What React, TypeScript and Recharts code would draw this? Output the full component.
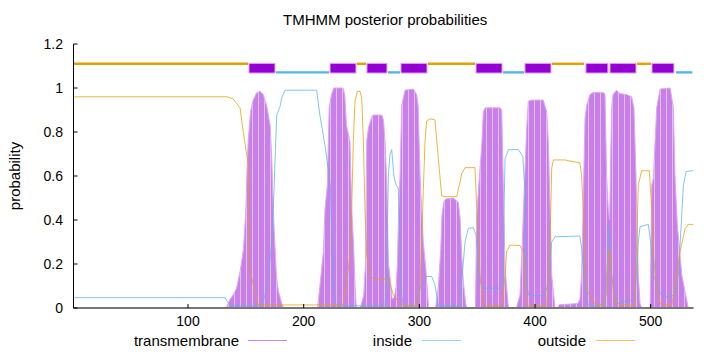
import React from "react";
import { ComposedChart, Area, Line, XAxis, YAxis, ReferenceArea } from "recharts";

// residue range and ticks
const seqStart = 1;
const seqEnd = 537;
const xTicks = [100, 200, 300, 400, 500];
const yTicks = [0, 0.2, 0.4, 0.6, 0.8, 1, 1.2];

// posterior probabilities, [residue, probability]
const transmembrane: [number, number][] = [
  [1, 0], [133, 0], [136, 0.036], [139, 0.06], [142, 0.09], [145, 0.165], [148, 0.27], [150, 0.45],
  [151, 0.62], [152, 0.76], [154, 0.89], [156, 0.94], [159, 0.976], [162, 0.986], [165, 0.97],
  [168, 0.92], [171, 0.83], [172.4, 0.68], [173.7, 0.45], [175, 0.3], [176.5, 0.14], [178, 0.08],
  [181, 0.02], [183, 0],
  [212, 0], [214, 0.1], [217, 0.256], [218.5, 0.455], [220.5, 0.56], [222, 0.91], [224, 0.97],
  [226, 1.0], [234, 1.0], [235.5, 0.97], [237, 0.83], [240, 0.756], [241.5, 0.455], [243, 0.3],
  [244.5, 0.09], [245.5, 0],
  [249, 0], [252, 0.06], [253.5, 0.21], [254.5, 0.76], [256, 0.82], [259, 0.87], [260, 0.877],
  [267.5, 0.877], [269, 0.855], [270.3, 0.756], [271.8, 0.574], [273.2, 0.21], [275, 0.12],
  [276.5, 0.04], [278.5, 0.05], [280, 0.1],
  [281, 0.2], [282, 0.42], [283.3, 0.6], [284.7, 0.92], [287.6, 0.99], [294.8, 0.995], [297.7, 0.97],
  [299, 0.915], [300.6, 0.6], [303.4, 0.3], [305.8, 0.165], [308, 0],
  [314, 0], [316.5, 0.1], [318.5, 0.27], [319.5, 0.42], [321, 0.48], [322.5, 0.495], [329.4, 0.5],
  [333.7, 0.48], [335.2, 0.41], [336.6, 0.24], [338, 0.12], [340, 0.02], [341, 0],
  [348.5, 0], [349.6, 0.42], [352.4, 0.635], [353.8, 0.726], [355.3, 0.89], [356.8, 0.91],
  [369.7, 0.91], [371.2, 0.9], [372.6, 0.55], [374.1, 0.18], [377, 0],
  [384, 0], [387, 0.06], [389, 0.3], [391.3, 0.62], [392.8, 0.82], [394.2, 0.94], [397.1, 0.945],
  [407.2, 0.945], [410.1, 0.89], [411.5, 0.756], [413, 0.455], [414.4, 0.15], [417.3, 0],
  [419, 0], [421, 0.015], [437, 0.02], [438.8, 0.04],
  [440.3, 0.15], [443.2, 0.86], [444.6, 0.92], [447.5, 0.97], [450.4, 0.98], [459, 0.98],
  [460.5, 0.97], [461.9, 0.6], [463.3, 0.455], [464.5, 0.4],
  [466.2, 0.91], [467.5, 0.97], [470.5, 0.99], [473.3, 0.975], [479.2, 0.97], [483.5, 0.96],
  [485.5, 0.91], [487.3, 0.6], [489.3, 0.15], [490.8, 0.02], [492.2, 0],
  [499.5, 0], [500.9, 0.56], [502.3, 0.59], [505.2, 0.91], [508.1, 0.995], [516.8, 1.0],
  [519.6, 0.91], [521, 0.6], [523, 0.38], [526.9, 0.15], [530.6, 0.05], [532.5, 0], [537, 0],
];

const inside: [number, number][] = [
  [1, 0.047], [132, 0.047], [134, 0.03], [136, 0.01], [163.7, 0.01], [166.6, 0.06], [169.5, 0.15],
  [172.4, 0.3], [174.3, 0.53], [175.8, 0.756], [176.7, 0.877], [179.5, 0.915], [181, 0.955],
  [183.8, 0.99], [211.2, 0.99], [214, 0.877], [218.4, 0.74], [223, 0.56], [224.5, 0.3], [226, 0.074],
  [228, 0.01], [270.3, 0.01], [271.8, 0.15], [273.2, 0.6], [274.6, 0.7], [276.1, 0.72], [278, 0.6],
  [279.8, 0.56], [281.8, 0.545], [283.3, 0.3], [284.7, 0.06], [286, 0.01], [297.7, 0.01],
  [300.6, 0.09], [306.3, 0.143], [310.7, 0.143], [313.5, 0.105], [316.4, 0.01], [335, 0.01],
  [336.6, 0.12], [339.5, 0.3], [342.3, 0.362], [346.7, 0.365], [349, 0.33], [351, 0.21],
  [352.4, 0.12], [355.3, 0.09], [369.7, 0.09], [372.6, 0.15], [373.2, 0.45], [374.1, 0.68],
  [377, 0.72], [385.6, 0.72], [389.4, 0.69], [391.3, 0.53], [392.2, 0.15], [394.2, 0.06],
  [401.4, 0.054], [408.6, 0.06], [411.5, 0.12], [414.4, 0.3], [417.3, 0.324], [438.8, 0.327],
  [440.3, 0.27], [442.3, 0.15], [444.6, 0.02], [450.4, 0.01], [460.5, 0.02], [462.5, 0.2],
  [463.3, 0.377], [464.5, 0.3], [466.2, 0.15], [470.5, 0.02], [479.2, 0.03], [486.4, 0.04],
  [489.3, 0.3], [490.8, 0.37], [497.9, 0.38], [500, 0.3], [502.3, 0.15], [508.1, 0.067],
  [513.9, 0.05], [521, 0.06], [523.9, 0.15], [528.3, 0.56], [530.6, 0.62], [537, 0.625],
];

const outside: [number, number][] = [
  [1, 0.96], [134, 0.96], [139, 0.95], [145, 0.91], [148, 0.79], [150.7, 0.7], [152.1, 0.65],
  [153, 0.195], [155, 0.14], [157.9, 0.07], [160.8, 0.014], [233, 0.014], [234.2, 0.02],
  [237.2, 0.12], [240, 0.24], [241.5, 0.45], [242.9, 0.756], [244.4, 0.94], [246.4, 0.985],
  [248.7, 0.985], [250.2, 0.955], [251.6, 0.756], [253, 0.45], [254.5, 0.24], [257.3, 0.15],
  [260.2, 0.132], [273.2, 0.132], [274.6, 0.11], [277.5, 0.06], [283.3, 0.02], [287.6, 0.01],
  [297.7, 0.01], [300.6, 0.09], [302, 0.3], [303.4, 0.53], [304.9, 0.756], [306.3, 0.85],
  [309.2, 0.86], [313.5, 0.855], [316.4, 0.68], [319.3, 0.51], [322.2, 0.506], [332.3, 0.506],
  [335.2, 0.574], [336.6, 0.61], [339.5, 0.638], [348.1, 0.638], [349.6, 0.455], [351, 0.3],
  [352.4, 0.15], [355.3, 0.02], [358.2, 0.01], [371.2, 0.01], [374.1, 0.15], [375.5, 0.256],
  [378.4, 0.286], [387, 0.284], [389.9, 0.256], [391.3, 0.15], [393.3, 0.01], [410.1, 0.01],
  [413, 0.3], [414.4, 0.635], [415.9, 0.673], [426, 0.673], [430.2, 0.668], [438.8, 0.66],
  [440.3, 0.6], [442.3, 0.38], [443.2, 0.15], [446, 0.067], [449, 0.045], [451.8, 0.02], [459, 0.01],
  [461.9, 0.07], [463.3, 0.256], [464.8, 0.26], [466.2, 0.15], [469.1, 0.02], [486.4, 0.01],
  [487.9, 0.3], [489.3, 0.56], [492.2, 0.624], [498.8, 0.624], [500.9, 0.45], [502.3, 0.24],
  [505.2, 0.09], [508.1, 0.02], [518.2, 0.01], [521, 0.1], [525.4, 0.256], [529.7, 0.36],
  [532.5, 0.38], [537, 0.38],
];

// predicted topology shown above the curves
const topology = [
  { type: "outside", start: 1, end: 152 },
  { type: "TMhelix", start: 152.7, end: 175.2 },
  { type: "inside", start: 176, end: 221.9 },
  { type: "TMhelix", start: 222.8, end: 245.2 },
  { type: "outside", start: 246, end: 253.9 },
  { type: "TMhelix", start: 254.7, end: 272 },
  { type: "inside", start: 272.9, end: 283.3 },
  { type: "TMhelix", start: 284.1, end: 306.6 },
  { type: "outside", start: 307.5, end: 348.1 },
  { type: "TMhelix", start: 349, end: 371.5 },
  { type: "inside", start: 372.4, end: 390.6 },
  { type: "TMhelix", start: 391.3, end: 413.8 },
  { type: "outside", start: 414.7, end: 442.3 },
  { type: "TMhelix", start: 444, end: 463 },
  { type: "TMhelix", start: 464.8, end: 487.3 },
  { type: "outside", start: 488.2, end: 500.3 },
  { type: "TMhelix", start: 501.1, end: 520.1 },
  { type: "inside", start: 521.8, end: 536 },
];

const PURPLE = "#9400d3";
const BLUE = "#56b4e9";
const ORANGE = "#e69f00";
const FONT = "'Liberation Sans', Arial, sans-serif";

type Row = { pos: number; tm?: number; inside?: number; outside?: number };

function buildTable(): Row[] {
  const rows = new Map<number, Row>();
  const add = (pts: [number, number][], key: "tm" | "inside" | "outside") => {
    pts.forEach(([p, v]) => {
      const r = rows.get(p) ?? { pos: p };
      r[key] = v;
      rows.set(p, r);
    });
  };
  add(transmembrane, "tm");
  add(inside, "inside");
  add(outside, "outside");
  return Array.from(rows.values()).sort((a, b) => a.pos - b.pos);
}

const table = buildTable();

const legendItems = [
  { name: "transmembrane", color: "#c684ee", textRight: 239, lineLeft: 248 },
  { name: "inside", color: "#9fd3f2", textRight: 412, lineLeft: 422 },
  { name: "outside", color: "#f2c462", textRight: 586, lineLeft: 596 },
];

function topBand(seg: (typeof topology)[number], i: number) {
  if (seg.type === "TMhelix") {
    return (
      <ReferenceArea key={i} x1={seg.start} x2={seg.end} y1={1.068} y2={1.112}
        fill={PURPLE} fillOpacity={1} stroke="#dcaaf2" strokeWidth={1} ifOverflow="visible" />
    );
  }
  const y = seg.type === "outside" ? 1.11 : 1.071;
  const color = seg.type === "outside" ? ORANGE : BLUE;
  return (
    <ReferenceArea key={i} x1={seg.start} x2={seg.end} y1={y - 0.0055} y2={y + 0.0055}
      fill={color} fillOpacity={1} stroke="none" ifOverflow="visible" />
  );
}

export default function App() {
  const tickStyle = { fontSize: 14, fill: "#000", fontFamily: FONT };
  return (
    <div style={{ position: "absolute", left: 0, top: 0, width: 720, height: 352, background: "#fff", fontFamily: FONT }}>
      <ComposedChart width={720} height={352} data={table}
        margin={{ top: 44, right: 26.5, bottom: 0, left: 0 }}>
        <defs>
          <pattern id="tmStripes" width="6" height="8" patternUnits="userSpaceOnUse">
            <rect width="6" height="8" fill="#c97fe9" />
            <rect x="0" width="1" height="8" fill="#e4bff6" />
          </pattern>
        </defs>
        <XAxis dataKey="pos" type="number" domain={[seqStart, seqEnd]} ticks={xTicks}
          allowDataOverflow height={44} tickSize={-4} tickMargin={12} tick={tickStyle}
          axisLine={{ stroke: "#777", strokeWidth: 2 }} tickLine={{ stroke: "#000" }} />
        <XAxis xAxisId="top" orientation="top" dataKey="pos" type="number" domain={[seqStart, seqEnd]}
          ticks={xTicks} height={0} tickSize={-4} tickFormatter={() => ""}
          axisLine={{ stroke: "#000" }} tickLine={{ stroke: "#000" }} />
        <YAxis domain={[0, 1.2]} ticks={yTicks} width={73.5} tickSize={-4} tickMargin={14.5}
          tick={tickStyle} axisLine={{ stroke: "#000" }} tickLine={{ stroke: "#000" }} allowDataOverflow />
        <YAxis yAxisId="right" orientation="right" domain={[0, 1.2]} ticks={yTicks} width={0}
          tickSize={-4} tickFormatter={() => ""} axisLine={{ stroke: "#777", strokeWidth: 2 }}
          tickLine={{ stroke: "#777" }} />

        <Area dataKey="tm" type="linear" connectNulls fill="url(#tmStripes)" fillOpacity={1}
          stroke="#dcaaf2" strokeWidth={1} isAnimationActive={false} />
        <Line dataKey="inside" type="linear" connectNulls stroke={BLUE} strokeOpacity={0.75}
          strokeWidth={1} dot={false} isAnimationActive={false} />
        <Line dataKey="outside" type="linear" connectNulls stroke={ORANGE} strokeOpacity={0.75}
          strokeWidth={1} dot={false} isAnimationActive={false} />

        {topology.map(topBand)}
      </ComposedChart>

      <div style={{ position: "absolute", left: 283, width: 200, top: 11, textAlign: "center",
        fontSize: 15, lineHeight: "18px", whiteSpace: "nowrap" }}>
        TMHMM posterior probabilities
      </div>
      <div style={{ position: "absolute", left: 15, top: 176, transform: "translate(-50%, -50%) rotate(-90deg)",
        fontSize: 15, lineHeight: "18px", whiteSpace: "nowrap" }}>
        probability
      </div>
      {legendItems.map((it) => (
        <React.Fragment key={it.name}>
          <div style={{ position: "absolute", right: 720 - it.textRight, top: 332, fontSize: 15,
            lineHeight: "17px", whiteSpace: "nowrap" }}>{it.name}</div>
          <div style={{ position: "absolute", left: it.lineLeft, width: 39, top: 340, height: 1,
            background: it.color }} />
        </React.Fragment>
      ))}
    </div>
  );
}
